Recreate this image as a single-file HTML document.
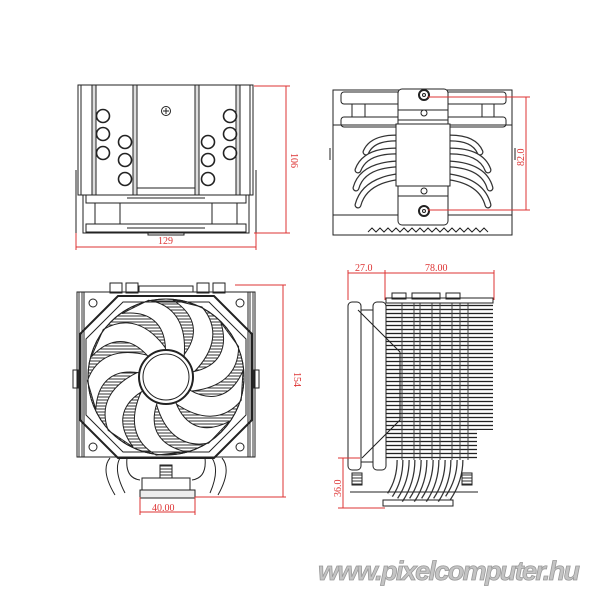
<!DOCTYPE html>
<html><head><style>html,body{margin:0;padding:0;background:#fff}svg{display:block}</style></head>
<body>
<svg width="600" height="600" viewBox="0 0 600 600" xmlns="http://www.w3.org/2000/svg">
<defs>
<pattern id="hh" width="4" height="3" patternUnits="userSpaceOnUse"><rect width="4" height="3" fill="#fff"/><line x1="0" y1="1" x2="4" y2="1" stroke="#333" stroke-width="1"/></pattern>
<pattern id="vv" width="3" height="4" patternUnits="userSpaceOnUse"><rect width="3" height="4" fill="#fff"/><line x1="1" y1="0" x2="1" y2="4" stroke="#333" stroke-width="1"/></pattern>
<pattern id="fin" width="4" height="4" patternUnits="userSpaceOnUse"><rect width="4" height="4" fill="#fff"/><line x1="0" y1="1.5" x2="4" y2="1.5" stroke="#222" stroke-width="1.3"/></pattern>
</defs>
<g fill="none" stroke="#222" stroke-width="1">
<!-- TOP LEFT VIEW -->
<rect x="78" y="85" width="175" height="110"/>
<line x1="81" y1="85" x2="81" y2="195"/><line x1="250" y1="85" x2="250" y2="195"/>
<rect x="92" y="85" width="4" height="110" fill="#ddd"/>
<rect x="133" y="85" width="4" height="110" fill="#ddd"/>
<rect x="195" y="85" width="4" height="110" fill="#ddd"/>
<rect x="236" y="85" width="4" height="110" fill="#ddd"/>
<line x1="137" y1="188" x2="195" y2="188"/>
<g stroke-width="1.6">
<circle cx="103" cy="116" r="6.5"/><circle cx="103" cy="134" r="6.5"/><circle cx="103" cy="153" r="6.5"/>
<circle cx="125" cy="142" r="6.5"/><circle cx="125" cy="160" r="6.5"/><circle cx="125" cy="179" r="6.5"/>
<circle cx="230" cy="116" r="6.5"/><circle cx="230" cy="134" r="6.5"/><circle cx="230" cy="153" r="6.5"/>
<circle cx="208" cy="142" r="6.5"/><circle cx="208" cy="160" r="6.5"/><circle cx="208" cy="179" r="6.5"/>
</g>
<circle cx="166" cy="111" r="4.5"/><line x1="163" y1="111" x2="169" y2="111"/><line x1="166" y1="108" x2="166" y2="114"/>
<rect x="83" y="195" width="166" height="38"/>
<rect x="86" y="195" width="160" height="8"/>
<rect x="86" y="224" width="160" height="8"/>
<line x1="120" y1="203" x2="120" y2="224"/><line x1="212" y1="203" x2="212" y2="224"/>
<line x1="95" y1="203" x2="95" y2="224"/><line x1="237" y1="203" x2="237" y2="224"/>
<path d="M127 198 L205 198 M127 228 L205 228"/>
<rect x="148" y="232" width="36" height="3"/>
<line x1="76" y1="170" x2="76" y2="234"/><line x1="256" y1="170" x2="256" y2="234"/>
<!-- TOP RIGHT VIEW -->
<rect x="333" y="90" width="179" height="145"/>
<line x1="333" y1="125" x2="512" y2="125"/>
<line x1="333" y1="215" x2="512" y2="215"/>
<rect x="341" y="92" width="60" height="12" rx="3"/>
<rect x="341" y="117" width="60" height="10" rx="3"/>
<rect x="446" y="92" width="60" height="12" rx="3"/>
<rect x="446" y="117" width="60" height="10" rx="3"/>
<line x1="352" y1="104" x2="352" y2="117"/><line x1="365" y1="104" x2="365" y2="117"/>
<line x1="482" y1="104" x2="482" y2="117"/><line x1="494" y1="104" x2="494" y2="117"/>
<g stroke-width="7" stroke="#333" stroke-linecap="round">
<path d="M396 138 Q372 138 366 152"/><path d="M396 151 Q365 151 358 170"/><path d="M396 164 Q362 166 356 188"/><path d="M396 177 Q364 182 358 205"/>
<path d="M450 138 Q474 138 480 152"/><path d="M450 151 Q481 151 488 170"/><path d="M450 164 Q484 166 490 188"/><path d="M450 177 Q482 182 488 205"/>
</g>
<g stroke-width="4.5" stroke="#fff" stroke-linecap="round">
<path d="M396 138 Q372 138 366 152"/><path d="M396 151 Q365 151 358 170"/><path d="M396 164 Q362 166 356 188"/><path d="M396 177 Q364 182 358 205"/>
<path d="M450 138 Q474 138 480 152"/><path d="M450 151 Q481 151 488 170"/><path d="M450 164 Q484 166 490 188"/><path d="M450 177 Q482 182 488 205"/>
</g>
<rect x="398" y="89" width="50" height="136" rx="4" fill="#fff"/>
<rect x="396" y="124" width="54" height="62" fill="#fff"/>
<line x1="398" y1="110" x2="448" y2="110"/><line x1="398" y1="120" x2="448" y2="120"/>
<line x1="398" y1="186" x2="448" y2="186"/><line x1="398" y1="196" x2="448" y2="196"/>
<circle cx="424" cy="95" r="5" stroke-width="2"/><circle cx="424" cy="95" r="1.5"/>
<circle cx="424" cy="113" r="3"/><circle cx="424" cy="191" r="3"/>
<circle cx="424" cy="211" r="5" stroke-width="2"/><circle cx="424" cy="211" r="1.5"/>
<path d="M368 232 l4 -4 l4 4 l4 -4 l4 4 l4 -4 l4 4 l4 -4 l4 4 l4 -4 l4 4 l4 -4 l4 4 l4 -4 l4 4 l4 -4 l4 4 l4 -4 l4 4 l4 -4 l4 4 l4 -4 l4 4 l4 -4 l4 4 l4 -4 l4 4 l4 -4 l4 4 l4 -4 l4 4"/>
<line x1="330" y1="148" x2="330" y2="160"/><line x1="515" y1="148" x2="515" y2="160"/>
<!-- BOTTOM LEFT VIEW -->
<rect x="77" y="292" width="178" height="165" fill="url(#vv)"/>
<rect x="84" y="292" width="164" height="165" fill="#fff"/>
<rect x="110" y="283" width="12" height="10"/><rect x="126" y="283" width="12" height="10"/>
<rect x="197" y="283" width="12" height="10"/><rect x="213" y="283" width="12" height="10"/>
<rect x="139" y="286" width="54" height="6"/>
<rect x="73" y="370" width="5" height="18"/><rect x="254" y="370" width="5" height="18"/>
<circle cx="166" cy="377" r="78" fill="url(#hh)"/>
<g fill="#fff" stroke="#222">
<path id="bl" d="M17 -21 C 34 -42 30 -62 7 -77 L 36 -70 C 53 -50 50 -27 27 -4 Z" transform="translate(166 377)"/>
<use href="#bl" transform="rotate(40 166 377)"/><use href="#bl" transform="rotate(80 166 377)"/>
<use href="#bl" transform="rotate(120 166 377)"/><use href="#bl" transform="rotate(160 166 377)"/>
<use href="#bl" transform="rotate(200 166 377)"/><use href="#bl" transform="rotate(240 166 377)"/>
<use href="#bl" transform="rotate(280 166 377)"/><use href="#bl" transform="rotate(320 166 377)"/>
</g>
<path d="M118 296 L214 296 L252 334 L252 420 L214 458 L118 458 L80 420 L80 334 Z" stroke-width="2"/>
<path d="M123 302 L209 302 L246 339 L246 415 L209 452 L123 452 L86 415 L86 339 Z"/>
<circle cx="166" cy="377" r="78"/>
<circle cx="166" cy="377" r="27" fill="#fff" stroke-width="2"/>
<circle cx="166" cy="377" r="23"/>
<circle cx="93" cy="303" r="4"/><circle cx="240" cy="303" r="4"/>
<circle cx="93" cy="447" r="4"/><circle cx="240" cy="447" r="4"/>
<path d="M110 458 Q100 470 115 495 M120 458 Q113 470 125 493 M212 458 Q220 470 210 493 M222 458 Q232 470 218 495"/>
<path d="M127 458 Q125 478 140 480 M205 458 Q207 478 192 480"/>
<rect x="142" y="478" width="48" height="12" fill="#fff"/>
<rect x="140" y="490" width="55" height="8" fill="#eee"/>
<rect x="160" y="465" width="12" height="13" fill="url(#hh)"/>
<!-- BOTTOM RIGHT VIEW -->
<rect x="386" y="300" width="107" height="130" fill="url(#fin)" stroke="none"/>
<rect x="386" y="430" width="91" height="30" fill="url(#fin)" stroke="none"/>
<g stroke="#444">
<line x1="402" y1="300" x2="402" y2="460"/><line x1="414" y1="300" x2="414" y2="460"/>
<line x1="420" y1="300" x2="420" y2="460"/><line x1="432" y1="300" x2="432" y2="460"/>
<line x1="440" y1="300" x2="440" y2="460"/><line x1="452" y1="300" x2="452" y2="460"/>
<line x1="460" y1="300" x2="460" y2="460"/><line x1="468" y1="300" x2="468" y2="460"/>
</g>
<rect x="386" y="298" width="107" height="5" fill="#fff"/>
<rect x="392" y="293" width="14" height="6"/><rect x="412" y="293" width="28" height="6"/><rect x="446" y="293" width="14" height="6"/>
<rect x="348" y="302" width="13" height="168" rx="4" fill="#fff"/>
<rect x="373" y="302" width="13" height="168" rx="4" fill="#fff"/>
<line x1="361" y1="310" x2="373" y2="310"/><line x1="361" y1="462" x2="373" y2="462"/>
<path d="M358 310 L400 352 L400 420 L362 458"/>
<g stroke-width="7" stroke="#333">
<path d="M400 460 Q400 480 390 495"/><path d="M412 460 Q412 482 400 500"/><path d="M424 460 Q424 482 412 500"/><path d="M436 460 Q436 482 424 500"/><path d="M448 460 Q448 482 436 500"/><path d="M460 460 Q460 480 448 498"/>
</g>
<g stroke-width="4.5" stroke="#fff">
<path d="M400 460 Q400 480 390 495"/><path d="M412 460 Q412 482 400 500"/><path d="M424 460 Q424 482 412 500"/><path d="M436 460 Q436 482 424 500"/><path d="M448 460 Q448 482 436 500"/><path d="M460 460 Q460 480 448 498"/>
</g>
<rect x="352" y="473" width="10" height="12" fill="url(#hh)"/><rect x="462" y="473" width="10" height="12" fill="url(#hh)"/>
<line x1="350" y1="492" x2="478" y2="492"/>
<rect x="383" y="500" width="70" height="6"/>
</g>
<!-- DIMENSIONS -->
<g stroke="#d33" stroke-width="1" fill="none">
<line x1="254" y1="86" x2="290" y2="86"/><line x1="254" y1="233" x2="290" y2="233"/><line x1="286" y1="86" x2="286" y2="233"/>
<line x1="76" y1="233" x2="76" y2="250"/><line x1="256" y1="233" x2="256" y2="250"/><line x1="76" y1="247" x2="256" y2="247"/>
<line x1="428" y1="97" x2="530" y2="97"/><line x1="428" y1="210" x2="530" y2="210"/><line x1="526" y1="97" x2="526" y2="210"/>
<line x1="235" y1="285" x2="286" y2="285"/><line x1="195" y1="497" x2="286" y2="497"/><line x1="283" y1="285" x2="283" y2="497"/>
<line x1="140" y1="497" x2="140" y2="515"/><line x1="195" y1="497" x2="195" y2="515"/><line x1="140" y1="512" x2="195" y2="512"/>
<line x1="348" y1="270" x2="348" y2="300"/><line x1="385" y1="270" x2="385" y2="300"/><line x1="494" y1="270" x2="494" y2="300"/>
<line x1="348" y1="273" x2="385" y2="273"/><line x1="385" y1="273" x2="494" y2="273"/>
<line x1="338" y1="458" x2="360" y2="458"/><line x1="338" y1="508" x2="385" y2="508"/><line x1="343" y1="458" x2="343" y2="508"/>
</g>
<g fill="#d33" font-family="Liberation Serif, serif" font-size="10">
<text x="158" y="244">129</text>
<text transform="translate(291 153) rotate(90)">106</text>
<text transform="translate(524 166) rotate(-90)">82.0</text>
<text transform="translate(294 372) rotate(90)">154</text>
<text x="152" y="511">40.00</text>
<text x="355" y="271">27.0</text>
<text x="425" y="271">78.00</text>
<text transform="translate(341 497) rotate(-90)">36.0</text>
</g>
<text x="318" y="580" font-family="Liberation Sans, sans-serif" font-size="27" font-weight="bold" font-style="italic" fill="#c4c4c4" stroke="#999" stroke-width="0.8" textLength="262">www.pixelcomputer.hu</text>
</svg>
</body></html>
